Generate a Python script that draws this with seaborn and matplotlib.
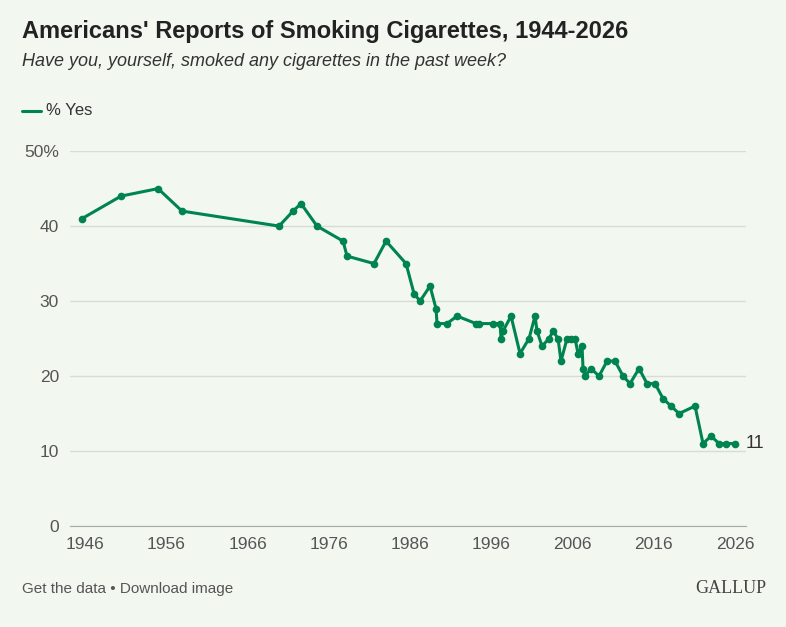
import numpy as np
import pandas as pd
import seaborn as sns
import matplotlib.pyplot as plt

# pixel-read x positions converted to years, values in %
px = [82, 121, 158, 182, 279, 293, 301, 317, 343, 347, 374, 386, 406, 414, 420, 430, 436, 437,
      447, 457, 476, 479, 493, 500, 501, 503, 511, 520, 529, 535, 537, 542, 549, 553, 558, 561,
      567, 571, 575, 578, 582, 583, 585, 591, 599, 607, 615, 623, 630, 639, 647, 655, 663, 671,
      679, 695, 703, 711, 719, 726, 735]
yes = [41, 44, 45, 42, 40, 42, 43, 40, 38, 36, 35, 38, 35, 31, 30, 32, 29, 27,
       27, 28, 27, 27, 27, 27, 25, 26, 28, 23, 25, 28, 26, 24, 25, 26, 25, 22,
       25, 25, 25, 23, 24, 21, 20, 21, 20, 22, 22, 20, 19, 21, 19, 19, 17, 16,
       15, 16, 11, 12, 11, 11, 11]
years = [1946 + (p - 85) / 8.125 for p in px]
df = pd.DataFrame({"year": years, "yes": yes})

bg = "#f2f7f0"
green = "#00844f"
sns.set_style("white")
plt.rcParams["font.family"] = ["Liberation Sans", "DejaVu Sans"]

fig = plt.figure(figsize=(7.86, 6.27), dpi=100, facecolor=bg)
ax = fig.add_axes([70 / 786, 0.161, 676 / 786, 0.598])
ax.set_facecolor(bg)
sns.lineplot(data=df, x="year", y="yes", color=green, lw=2.2, marker="o",
             markersize=5.5, markeredgewidth=0, ax=ax)

ax.set_xlim(1944.15, 2027.35)
ax.set_ylim(0, 50)
ax.set_xticks(range(1946, 2027, 10))
ax.set_yticks([0, 10, 20, 30, 40, 50])
ax.set_yticklabels(["0", "10", "20", "30", "40", "50%"])
ax.tick_params(axis="both", length=0, labelsize=12.5, colors="#555555", pad=8)
ax.grid(axis="y", color="#d8dcd6", lw=1)
for s in ax.spines.values():
    s.set_visible(False)
ax.spines["bottom"].set_visible(True)
ax.spines["bottom"].set_color("#aaaaaa")
ax.set_xlabel("")
ax.set_ylabel("")
ax.text(df["year"].iloc[-1] + 1.3, yes[-1], str(yes[-1]), va="center", fontsize=13, color="#333333")

fig.text(0.028, 0.94, "Americans' Reports of Smoking Cigarettes, 1944-2026",
         fontsize=17, fontweight="bold", color="#222222")
fig.text(0.028, 0.895, "Have you, yourself, smoked any cigarettes in the past week?",
         fontsize=13, style="italic", color="#333333")
fig.lines.append(plt.Line2D([0.028, 0.052], [0.823, 0.823], color=green, lw=2.2,
                            transform=fig.transFigure))
fig.text(0.058, 0.823, "% Yes", fontsize=12, va="center", color="#333333")
fig.text(0.028, 0.055, "Get the data \u2022 Download image", fontsize=11, color="#555555")
fig.text(0.975, 0.055, "GALLUP", fontsize=13, ha="right", family="Liberation Serif",
         color="#444444")

fig.savefig("out.png", facecolor=bg)
